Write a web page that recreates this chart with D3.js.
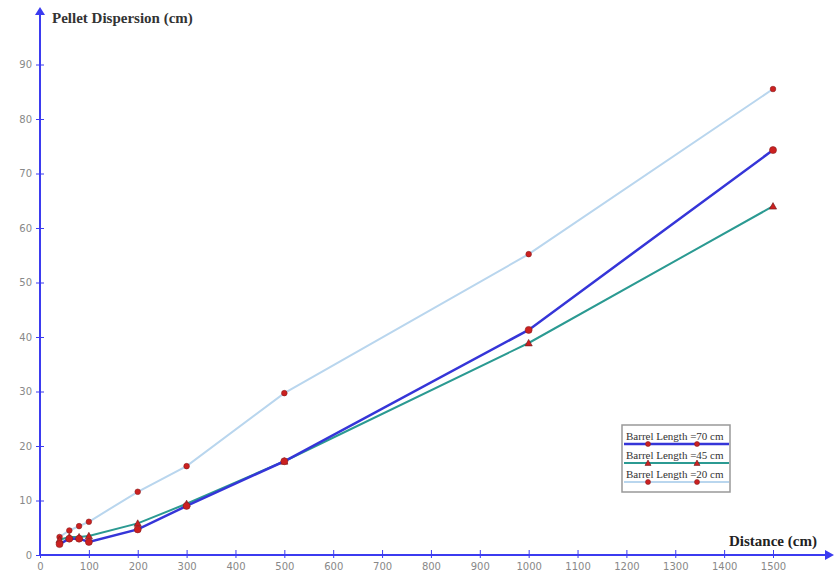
<!DOCTYPE html>
<html><head><meta charset="utf-8">
<script src="https://cdn.jsdelivr.net/npm/d3@7"></script>
<style>body{margin:0;background:#fff;}svg{display:block;}</style>
</head><body>
<svg id="c" width="838" height="573"></svg>
<script>
const distances = [40, 60, 80, 100, 200, 300, 500, 1000, 1500];
const barrel70 = [2.0, 3.0, 3.0, 2.4, 4.7, 9.0, 17.2, 41.3, 74.3];
const barrel45 = [2.8, 3.3, 3.3, 3.5, 5.8, 9.4, 17.2, 38.9, 64.0];
const barrel20 = [3.3, 4.5, 5.3, 6.1, 11.6, 16.3, 29.7, 55.2, 85.5];
const xTicks = [0,100,200,300,400,500,600,700,800,900,1000,1100,1200,1300,1400,1500];
const yTicks = [0,10,20,30,40,50,60,70,80,90];
const seriesNames = ["Barrel Length =70 cm","Barrel Length =45 cm","Barrel Length =20 cm"];

const svg = d3.select("#c");
const x = d3.scaleLinear().domain([0,1500]).range([40,773]);
const y = d3.scaleLinear().domain([0,90]).range([555,64.5]);
const axisColor = "#3b3bf0";

// axes
const xAxis = svg.append("g").attr("transform","translate(0,555)")
  .call(d3.axisBottom(x).tickValues(xTicks).tickSize(3).tickFormat(d3.format("d")));
xAxis.select(".domain").remove();
xAxis.selectAll(".tick line").attr("y1",-5).attr("y2",3).attr("stroke",axisColor).attr("stroke-width",1);
xAxis.selectAll(".tick text").attr("y",8).attr("fill","#888").attr("font-family","Tahoma, 'DejaVu Sans', sans-serif").attr("font-size",10);

const yAxis = svg.append("g").attr("transform","translate(40,0)")
  .call(d3.axisLeft(y).tickValues(yTicks).tickSize(4).tickFormat(d3.format("d")));
yAxis.select(".domain").remove();
yAxis.selectAll(".tick line").attr("x1",-4).attr("x2",4).attr("stroke",axisColor).attr("stroke-width",1);
yAxis.selectAll(".tick text").attr("x",-8).attr("fill","#888").attr("font-family","Tahoma, 'DejaVu Sans', sans-serif").attr("font-size",10);

svg.append("line").attr("x1",40).attr("x2",40).attr("y1",556).attr("y2",14).attr("stroke",axisColor).attr("stroke-width",2);
svg.append("path").attr("d","M40,7 L35,15 L45,15 Z").attr("fill",axisColor);
svg.append("line").attr("x1",39).attr("x2",826).attr("y1",555).attr("y2",555).attr("stroke",axisColor).attr("stroke-width",2);
svg.append("path").attr("d","M834,555 L825,550 L825,560 Z").attr("fill",axisColor);

svg.append("text").attr("x",52).attr("y",23).text("Pellet Dispersion (cm)")
  .attr("font-family","'Liberation Serif','Times New Roman',serif").attr("font-weight","bold").attr("font-size",15).attr("fill","#333");
svg.append("text").attr("x",729).attr("y",546).text("Distance (cm)")
  .attr("font-family","'Liberation Serif','Times New Roman',serif").attr("font-weight","bold").attr("font-size",15).attr("fill","#222");

const series = [
  {name:seriesNames[2], vals:barrel20, color:"#b9d6ee", w:2, marker:"circle", r:2.8},
  {name:seriesNames[1], vals:barrel45, color:"#2b9a92", w:2, marker:"triangle", r:3},
  {name:seriesNames[0], vals:barrel70, color:"#3535d8", w:2.5, marker:"circle", r:3.5}
];
const line = d3.line().x((d,i)=>x(distances[i])).y(d=>y(d));
const markerColor = "#cc2020";
function drawMarker(g, m, cx, cy, r){
  if(m==="circle"){
    g.append("circle").attr("cx",cx).attr("cy",cy).attr("r",r).attr("fill",markerColor).attr("stroke","#8a2020").attr("stroke-width",0.6);
  } else {
    const s=r*1.2;
    g.append("path").attr("d",`M${cx},${cy-s} L${cx+s},${cy+s*0.8} L${cx-s},${cy+s*0.8} Z`).attr("fill",markerColor).attr("stroke","#6a1a1a").attr("stroke-width",0.6);
  }
}
series.forEach(s=>{
  svg.append("path").datum(s.vals).attr("d",line).attr("fill","none").attr("stroke",s.color).attr("stroke-width",s.w);
});
series.forEach(s=>{
  const g=svg.append("g");
  s.vals.forEach((v,i)=>drawMarker(g,s.marker,x(distances[i]),y(v),s.r));
});

// legend
const lg = svg.append("g");
lg.append("rect").attr("x",622).attr("y",425).attr("width",108).attr("height",67).attr("fill","#fff").attr("stroke","#999").attr("stroke-width",1.5);
const legendItems = [series[2], series[1], series[0]];
legendItems.forEach((s,i)=>{
  const ty = 440 + i*19;
  lg.append("text").attr("x",626).attr("y",ty).text(s.name)
    .attr("font-family","'Liberation Serif','Times New Roman',serif").attr("font-size",11).attr("fill","#333");
  lg.append("line").attr("x1",624).attr("x2",729).attr("y1",ty+4).attr("y2",ty+4).attr("stroke",s.color).attr("stroke-width",s.w);
  drawMarker(lg,s.marker,648,ty+4,2.5);
  drawMarker(lg,s.marker,697,ty+4,2.5);
});
</script>
</body></html>
